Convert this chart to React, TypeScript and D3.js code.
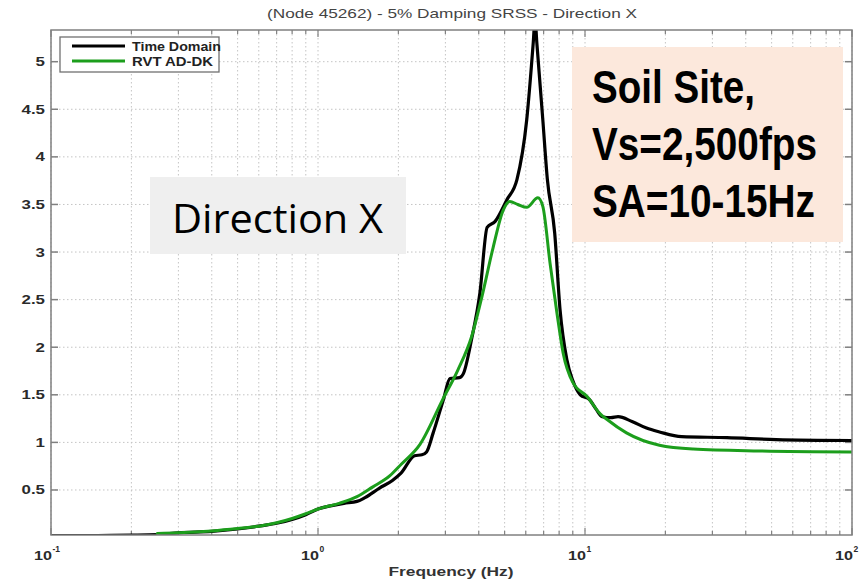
import React from "react";
import * as d3 from "d3";

// Spectral acceleration vs frequency, node 45262, direction X
const timeDomainFreq = [0.1, 0.15, 0.2, 0.25, 0.3, 0.4, 0.5, 0.6, 0.7, 0.8, 0.9, 1.0, 1.1, 1.25, 1.4, 1.5, 1.7, 1.9, 2.05, 2.3, 2.45, 2.55, 2.7, 2.95, 3.12, 3.39, 3.5, 3.77, 4.04, 4.3, 4.6, 5.1, 5.56, 6.05, 6.4, 6.5, 6.6, 6.95, 7.23, 7.7, 8.06, 8.55, 9.0, 9.6, 10.4, 11.0, 11.6, 12.5, 13.3, 15, 17, 19, 23, 34, 52, 100];
const timeDomainSA = [0.02, 0.022, 0.025, 0.03, 0.05, 0.065, 0.09, 0.12, 0.15, 0.19, 0.24, 0.3, 0.33, 0.36, 0.38, 0.42, 0.52, 0.6, 0.68, 0.86, 0.87, 0.9, 1.1, 1.45, 1.67, 1.68, 1.72, 2.1, 2.57, 3.26, 3.32, 3.55, 3.76, 4.39, 5.2, 5.45, 5.2, 4.39, 3.76, 3.2, 2.4, 1.87, 1.65, 1.5, 1.45, 1.35, 1.27, 1.26, 1.27, 1.22, 1.15, 1.11, 1.06, 1.05, 1.03, 1.02];

const rvtFreq = [0.25, 0.3, 0.4, 0.5, 0.6, 0.7, 0.8, 0.9, 1.0, 1.2, 1.4, 1.6, 1.86, 2.05, 2.41, 2.93, 3.34, 3.77, 4.11, 4.53, 4.94, 5.23, 5.6, 6.05, 6.66, 6.95, 7.4, 7.85, 8.28, 9.0, 10.2, 11.4, 12.1, 14.3, 19, 25.4, 45, 100];
const rvtSA = [0.044, 0.05, 0.07, 0.095, 0.12, 0.155, 0.2, 0.25, 0.3, 0.36, 0.43, 0.53, 0.65, 0.77, 0.98, 1.45, 1.76, 2.12, 2.53, 3.05, 3.44, 3.53, 3.5, 3.47, 3.57, 3.48, 2.88, 2.36, 1.94, 1.63, 1.48, 1.3, 1.24, 1.1, 0.97, 0.93, 0.91, 0.9];

const yTicks = [0.5, 1, 1.5, 2, 2.5, 3, 3.5, 4, 4.5, 5];
const xDecades = [0.1, 1, 10, 100];
const xDecadeExp = ["-1", "0", "1", "2"];
const legendLabels = ["Time Domain", "RVT AD-DK"];
const titleText = "(Node 45262) - 5% Damping SRSS - Direction X";
const xLabelText = "Frequency (Hz)";
const siteLines = ["Soil Site,", "Vs=2,500fps", "SA=10-15Hz"];

const W = 861;
const H = 582;
const left = 51;
const right = 852;
const top = 30;
const bottom = 535;

// the figure's text is rendered a little wider than its height suggests
const stretch = 1.35;
const charW = (s: string) =>
  s.split("").reduce((a, c) => a + (c === "." ? 0.278 : 0.556), 0);

export default function App() {
  const x = d3.scaleLog().domain([0.1, 100]).range([left, right]);
  const y = d3.scaleLinear().domain([0.027, 5.333]).range([bottom, top]);

  const minorX: number[] = [];
  for (const d of [0.1, 1, 10]) for (let k = 1; k <= 10; k++) minorX.push(d * k);
  const uniqX = Array.from(new Set(minorX.map((v) => +v.toPrecision(3))));

  const line = d3
    .line<[number, number]>()
    .x((d) => x(d[0]))
    .y((d) => y(d[1]))
    .curve(d3.curveMonotoneX);

  const tdPath = line(timeDomainFreq.map((f, i) => [f, timeDomainSA[i]]) as [number, number][]) || "";
  const rvtPath = line(rvtFreq.map((f, i) => [f, rvtSA[i]]) as [number, number][]) || "";

  const axisColor = "#808080";
  const gridColor = "#c4c4c4";
  const font = "'Liberation Sans', Arial, sans-serif";
  const tickFs = 12.5;

  return (
    <svg width={W} height={H} style={{ position: "absolute", left: 0, top: 0, background: "#fff" }} fontFamily={font}>
      <defs>
        <clipPath id="plotClip">
          <rect x={left} y={top} width={right - left} height={bottom - top} />
        </clipPath>
      </defs>
      <rect x={0} y={0} width={W} height={H} fill="#fff" />

      {/* grid */}
      {uniqX.map((v) => (
        <line key={"gx" + v} x1={x(v)} x2={x(v)} y1={top} y2={bottom} stroke={gridColor} strokeWidth={1} strokeDasharray="1.5,2.5" />
      ))}
      {yTicks.map((v) => (
        <line key={"gy" + v} x1={left} x2={right} y1={y(v)} y2={y(v)} stroke={gridColor} strokeWidth={1} strokeDasharray="1.5,2.5" />
      ))}

      {/* tick marks */}
      {uniqX.map((v) => {
        const major = xDecades.includes(v);
        const len = major ? 7 : 4;
        return (
          <g key={"tx" + v}>
            <line x1={x(v)} x2={x(v)} y1={bottom} y2={bottom - len} stroke={axisColor} strokeWidth={1.2} />
            <line x1={x(v)} x2={x(v)} y1={top} y2={top + len} stroke={axisColor} strokeWidth={1.2} />
          </g>
        );
      })}
      {yTicks.map((v) => (
        <g key={"ty" + v}>
          <line x1={left} x2={left + 7} y1={y(v)} y2={y(v)} stroke={axisColor} strokeWidth={1.5} />
          <line x1={right} x2={right - 7} y1={y(v)} y2={y(v)} stroke={axisColor} strokeWidth={1.5} />
        </g>
      ))}

      {/* curves */}
      <g clipPath="url(#plotClip)" fill="none" strokeLinejoin="round" strokeLinecap="round">
        <path d={tdPath} stroke="#000" strokeWidth={3.2} />
        <path d={rvtPath} stroke="#1c9e1c" strokeWidth={3} />
      </g>

      {/* axes box */}
      <rect x={left} y={top} width={right - left} height={bottom - top} fill="none" stroke={axisColor} strokeWidth={1.5} />

      {/* y tick labels */}
      {yTicks.map((v) => {
        const s = String(v);
        return (
          <text
            key={"ly" + v}
            x={45}
            y={y(v) + 4.5}
            textAnchor="end"
            fontSize={tickFs}
            fill="#2a2a2a"
            fontWeight="bold"
            textLength={charW(s) * tickFs * stretch}
            lengthAdjust="spacingAndGlyphs"
          >
            {s}
          </text>
        );
      })}

      {/* x tick labels */}
      {xDecades.map((v, i) => (
        <g key={"lx" + v}>
          <text x={x(v) + 1} y={560} textAnchor="end" fontSize={tickFs} fill="#2a2a2a" fontWeight="bold" textLength={18} lengthAdjust="spacingAndGlyphs">
            10
          </text>
          <text x={x(v) + 1.5} y={552} textAnchor="start" fontSize={8.5} fill="#2a2a2a" fontWeight="bold">
            {xDecadeExp[i]}
          </text>
        </g>
      ))}

      {/* title and axis label */}
      <text x={452} y={18} textAnchor="middle" fontSize={13.5} fill="#444" textLength={370} lengthAdjust="spacingAndGlyphs">
        {titleText}
      </text>
      <text x={451} y={576} textAnchor="middle" fontSize={13} fill="#333" fontWeight="bold" textLength={125} lengthAdjust="spacingAndGlyphs">
        {xLabelText}
      </text>

      {/* legend */}
      <rect x={60} y={37} width={159} height={35} fill="#fff" stroke="#707070" strokeWidth={1.3} />
      <line x1={72} x2={125} y1={46} y2={46} stroke="#000" strokeWidth={3} />
      <line x1={72} x2={125} y1={61} y2={61} stroke="#1c9e1c" strokeWidth={3} />
      <text x={132} y={51} fontSize={13} fontWeight="bold" fill="#222" textLength={89} lengthAdjust="spacingAndGlyphs">{legendLabels[0]}</text>
      <text x={132} y={66} fontSize={13} fontWeight="bold" fill="#222" textLength={81} lengthAdjust="spacingAndGlyphs">{legendLabels[1]}</text>

      {/* direction annotation */}
      <rect x={150} y={177} width={256} height={77} fill="#efefef" />
      <text x={172} y={233} fontSize={41} fill="#000" fontFamily="'Open Sans', 'Noto Sans', sans-serif" textLength={211} lengthAdjust="spacingAndGlyphs">
        Direction X
      </text>

      {/* site annotation */}
      <rect x={572} y={47} width={271} height={195} fill="#fce8dc" />
      {siteLines.map((s, i) => (
        <text
          key={s}
          x={592}
          y={103 + i * 57}
          fontSize={46}
          fontWeight="bold"
          fill="#000"
          fontFamily="'Liberation Sans Narrow', 'Liberation Sans', Arial, sans-serif"
          textLength={[163, 225, 223][i]}
          lengthAdjust="spacingAndGlyphs"
        >
          {s}
        </text>
      ))}
    </svg>
  );
}
